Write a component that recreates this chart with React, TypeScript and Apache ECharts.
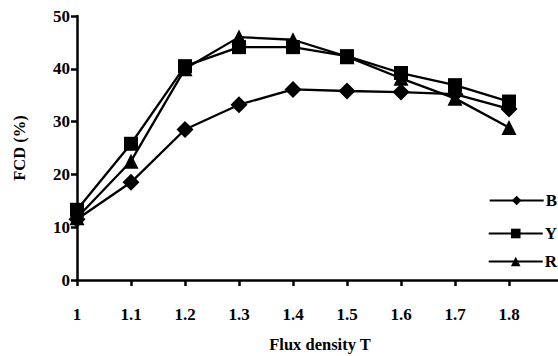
import React, { useEffect, useRef } from "react";
import * as echarts from "echarts";

const xValues = [1, 1.1, 1.2, 1.3, 1.4, 1.5, 1.6, 1.7, 1.8];
const seriesB = [11.5, 18.5, 28.5, 33.2, 36.1, 35.8, 35.6, 35.2, 32.4];
const seriesY = [13.3, 25.8, 40.5, 44.1, 44.1, 42.4, 39.2, 36.9, 33.8];
const seriesR = [11.8, 22.5, 40.0, 46.0, 45.5, 42.3, 38.2, 34.4, 28.9];
const seriesNames = ["B", "Y", "R"];

const font = "'Liberation Serif', 'Times New Roman', serif";

export default function App() {
  const ref = useRef<HTMLDivElement>(null);
  useEffect(() => {
    if (!ref.current) return;
    const chart = echarts.init(ref.current, null, { renderer: "svg" });
    const mk = (name: string, data: number[], symbol: string, size: number) => ({
      name,
      type: "line",
      data: xValues.map((x, i) => [x, data[i]]),
      symbol,
      symbolSize: size,
      lineStyle: { color: "#000", width: 2.3 },
      itemStyle: { color: "#000" },
    });
    const legendItem = (name: string, top: number) => ({
      data: [name],
      right: 1,
      top,
      orient: "vertical",
      itemWidth: 54,
      itemHeight: 12,
      textStyle: { fontFamily: font, fontWeight: "bold", fontSize: 17, color: "#000", padding: [0, 0, 0, -3] },
      padding: 0,
    });
    chart.setOption({
      animation: false,
      backgroundColor: "#fff",
      grid: { left: 77, top: 16, width: 486, height: 264, outerBoundsMode: "none", containLabel: false },
      legend: [legendItem("B", 192), legendItem("Y", 225), legendItem("R", 253)],
      xAxis: {
        type: "value",
        min: 1,
        max: 1.9,
        interval: 0.1,
        name: "Flux density T",
        nameLocation: "middle",
        nameGap: 56,
        nameTextStyle: { fontFamily: font, fontWeight: "bold", fontSize: 16.5, color: "#000" },
        axisLine: { lineStyle: { color: "#000", width: 2.5 } },
        axisTick: { show: true, length: 6, lineStyle: { color: "#000", width: 2.5 } },
        axisLabel: {
          margin: 26,
          fontFamily: font,
          fontWeight: "bold",
          fontSize: 17,
          color: "#000",
          formatter: (v: number) => (v > 1.85 ? "" : String(Math.round(v * 10) / 10)),
        },
        splitLine: { show: false },
      },
      yAxis: {
        type: "value",
        min: 0,
        max: 50,
        interval: 10,
        name: "FCD (%)",
        nameLocation: "middle",
        nameGap: 49,
        nameTextStyle: { fontFamily: font, fontWeight: "bold", fontSize: 16.5, color: "#000" },
        axisLine: { show: true, lineStyle: { color: "#000", width: 2.5 } },
        axisTick: { show: true, length: 6, lineStyle: { color: "#000", width: 2.5 } },
        axisLabel: { margin: 7, fontFamily: font, fontWeight: "bold", fontSize: 17, color: "#000" },
        splitLine: { show: false },
      },
      series: [
        mk(seriesNames[0], seriesB, "diamond", 17),
        mk(seriesNames[1], seriesY, "rect", 14),
        mk(seriesNames[2], seriesR, "triangle", 15),
      ],
    });
    return () => chart.dispose();
  }, []);
  return <div ref={ref} style={{ width: 558, height: 356, position: "absolute", left: 0, top: 0 }} />;
}
